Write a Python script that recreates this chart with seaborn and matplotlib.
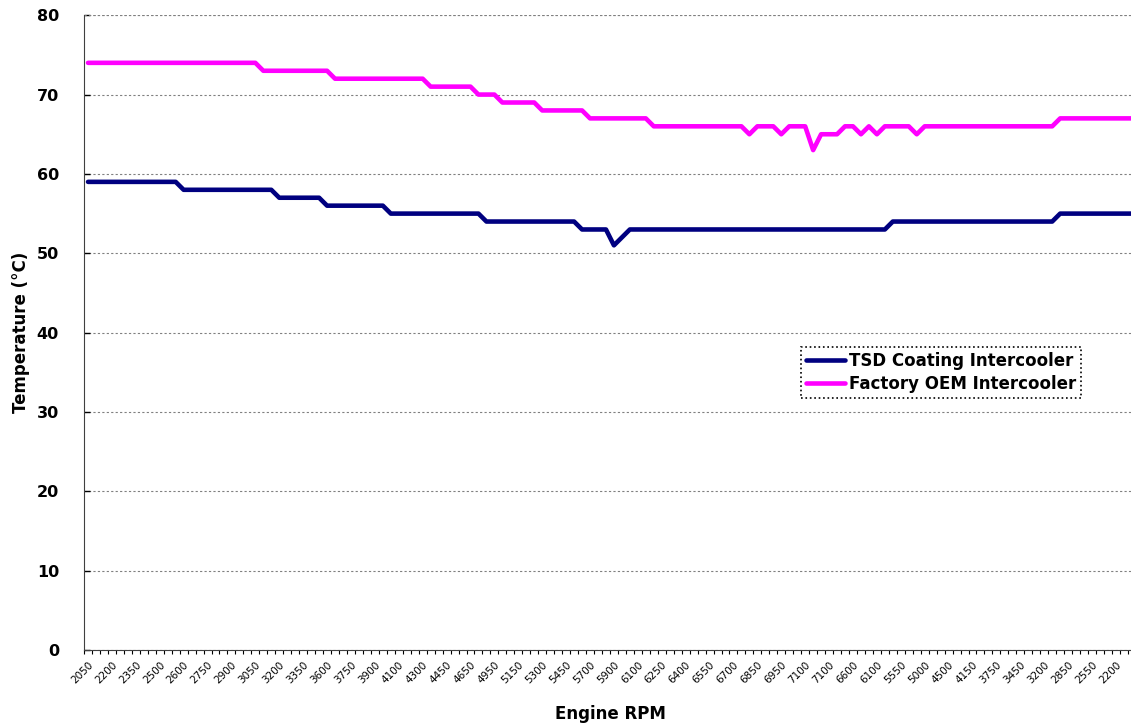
#--------------------------------------------------------
# Intercooler outlet temperature over an engine RPM sweep
# (TSD coated intercooler vs factory OEM intercooler)
#--------------------------------------------------------

import numpy as np
import pandas as pd
import seaborn as sns
import matplotlib.pyplot as plt

# RPM labels shown on the axis (every third logged sample)
rpm_labels = [2050, 2200, 2350, 2500, 2600, 2750, 2900, 3050, 3200, 3350,
              3600, 3750, 3900, 4100, 4300, 4450, 4650, 4950, 5150, 5300,
              5450, 5700, 5900, 6100, 6250, 6400, 6550, 6700, 6850, 6950,
              7100, 7100, 6600, 6100, 5550, 5000, 4500, 4150, 3750, 3450,
              3200, 2850, 2550, 2200]
label_step = 3

tsd_temp = ([59] * 12 + [58] * 12 + [57] * 6 + [56] * 8 + [55] * 12 +
            [54] * 12 + [53] * 4 + [51, 52] + [53] * 33 + [54] * 21 +
            [55] * 10)
oem_temp = ([74] * 22 + [73] * 9 + [72] * 12 + [71] * 6 + [70] * 3 +
            [69] * 5 + [68] * 6 + [67] * 8 + [66] * 12 + [65] + [66] * 3 +
            [65] + [66] * 3 + [63] + [65] * 3 + [66] * 2 + [65, 66, 65] +
            [66] * 4 + [65] + [66] * 17 + [67] * 10)

sample = np.arange(len(tsd_temp))
df = pd.DataFrame({'sample': sample, 'tsd': tsd_temp, 'oem': oem_temp})

sns.set_style("ticks")
plt.rcParams['font.family'] = ['DejaVu Sans']
plt.rcParams['text.color'] = 'black'
plt.rcParams['axes.labelcolor'] = 'black'
plt.rcParams['xtick.color'] = 'black'
plt.rcParams['ytick.color'] = 'black'

fig = plt.figure(figsize=(11.31, 7.25), dpi=100)
ax = fig.add_axes([0.0743, 0.1034, 0.93, 0.8756])

sns.lineplot(data=df, x='sample', y='tsd', color='#000080', linewidth=3.3,
             label='TSD Coating Intercooler', ax=ax)
sns.lineplot(data=df, x='sample', y='oem', color='#FF00FF', linewidth=3.3,
             label='Factory OEM Intercooler', ax=ax)

# y axis
ax.set_ylim(0, 80)
ax.set_yticks(range(0, 81, 10))
ax.tick_params(axis='y', direction='in', length=4, width=1, labelsize=11.5, pad=18)
for t in ax.get_yticklabels():
    t.set_fontweight('bold')
ax.yaxis.grid(True, linestyle=(0, (2, 2)), color='#808080', linewidth=0.8)
ax.set_ylabel('Temperature (°C)', fontsize=12, fontweight='bold', labelpad=5)

# x axis: categories, ticks between samples, labels every third sample
ax.set_xlim(-0.5, len(sample) - 0.5)
ax.set_xticks(sample[::label_step])
ax.set_xticklabels([str(r) for r in rpm_labels], rotation=45, ha='right',
                   rotation_mode='anchor', fontsize=7.5)
ax.tick_params(axis='x', length=0, pad=7)
ax.set_xticks(np.arange(len(sample) + 1) - 0.5, minor=True)
ax.tick_params(axis='x', which='minor', direction='out', length=3, width=0.8)
ax.set_xlabel('Engine RPM', fontsize=12, fontweight='bold', labelpad=14)

for side in ['right', 'top']:
    ax.spines[side].set_visible(False)
ax.spines['left'].set_color('#404040')
ax.spines['bottom'].set_color('#404040')
ax.axhline(80, color='#808080', linestyle=(0, (2, 2)), linewidth=0.8)

leg = ax.legend(loc='upper left', bbox_to_anchor=(0.682, 0.477),
                prop={'weight': 'bold', 'size': 12}, fancybox=False,
                framealpha=1, edgecolor='black', handlelength=2.3,
                handletextpad=0.25, borderpad=0.3, labelspacing=0.3,
                borderaxespad=0)
leg.get_frame().set_linestyle(':')
leg.get_frame().set_linewidth(1.2)

fig.savefig('out.png', dpi=100)
